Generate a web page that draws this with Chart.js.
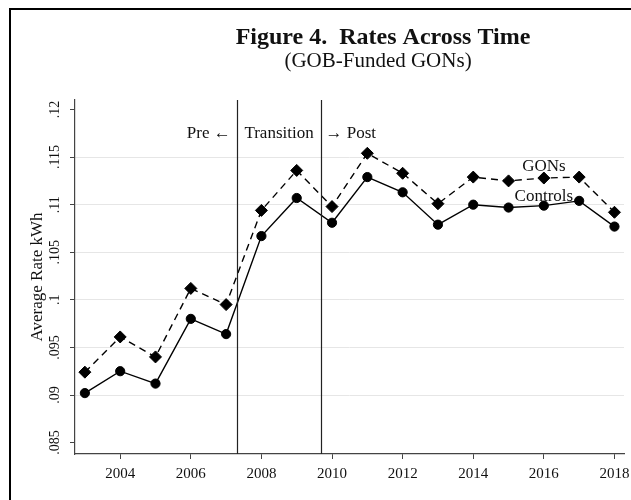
<!DOCTYPE html>
<html>
<head>
<meta charset="utf-8">
<script src="https://cdn.jsdelivr.net/npm/chart.js@4.4.1/dist/chart.umd.min.js"></script>
<style>
  html, body { margin: 0; padding: 0; background: #fff; }
  #wrap { width: 631px; height: 500px; }
</style>
</head>
<body>
<div id="wrap"><canvas id="rates"></canvas></div>
<script>
// data
const years = [2003, 2004, 2005, 2006, 2007, 2008, 2009, 2010, 2011, 2012, 2013, 2014, 2015, 2016, 2017, 2018];
const gons = [0.0924, 0.0961, 0.0940, 0.1012, 0.0995, 0.1094, 0.1136, 0.1098, 0.1154, 0.1133, 0.1101, 0.1129, 0.1125, 0.1128, 0.1129, 0.1092];
const controls = [0.0902, 0.0925, 0.0912, 0.0980, 0.0964, 0.1067, 0.1107, 0.1081, 0.1129, 0.1113, 0.1079, 0.1100, 0.1097, 0.1099, 0.1104, 0.1077];
const xTicks = [2004, 2006, 2008, 2010, 2012, 2014, 2016, 2018];
const yTicks = [0.085, 0.09, 0.095, 0.1, 0.105, 0.11, 0.115, 0.12];
const periodBreaks = [2007.3, 2009.7];

const serif = '"Liberation Serif", "DejaVu Serif", serif';
const ink = '#111';

function fmtRate(v) {
    return String(+v.toFixed(3)).replace(/^0/, '');
}

// frame, titles, rotated y labels, period lines and text annotations
const decorations = {
    id: 'decorations',
    beforeDraw(chart) {
        const ctx = chart.ctx;
        ctx.save();
        ctx.fillStyle = '#fff';
        ctx.fillRect(0, 0, chart.width, chart.height);
        ctx.strokeStyle = '#000';
        ctx.lineWidth = 2;
        ctx.beginPath();
        ctx.moveTo(10, chart.height);
        ctx.lineTo(10, 9);
        ctx.lineTo(chart.width, 9);
        ctx.stroke();
        ctx.restore();
    },
    afterDatasetsDraw(chart) {
        const { ctx, chartArea } = chart;
        const x = chart.scales.x;
        const y = chart.scales.y;
        ctx.save();

        // period lines
        ctx.strokeStyle = '#222';
        ctx.lineWidth = 1.2;
        periodBreaks.forEach(b => {
            const px = Math.round(x.getPixelForValue(b)) + 0.5;
            ctx.beginPath();
            ctx.moveTo(px, chartArea.top);
            ctx.lineTo(px, chartArea.bottom);
            ctx.stroke();
        });

        ctx.fillStyle = ink;
        ctx.textBaseline = 'middle';

        // titles
        ctx.textAlign = 'center';
        ctx.font = 'bold 24px ' + serif;
        ctx.fillText('Figure 4.  Rates Across Time', 383, 38);
        ctx.font = '21px ' + serif;
        ctx.fillText('(GOB-Funded GONs)', 378, 61);

        // period labels
        const b1 = x.getPixelForValue(periodBreaks[0]);
        const b2 = x.getPixelForValue(periodBreaks[1]);
        const ly = y.getPixelForValue(0.1175);
        ctx.font = '17px ' + serif;
        ctx.textAlign = 'right';
        ctx.fillText('Pre \u2190', b1 - 6, ly);
        ctx.textAlign = 'center';
        ctx.fillText('Transition', (b1 + b2) / 2, ly);
        ctx.textAlign = 'left';
        ctx.fillText('\u2192 Post', b2 + 4, ly);

        // series labels
        ctx.textAlign = 'center';
        ctx.fillText('GONs', x.getPixelForValue(2016.0), y.getPixelForValue(0.1140));
        ctx.fillText('Controls', x.getPixelForValue(2016.0), y.getPixelForValue(0.1109));

        // y tick labels, rotated like the original
        ctx.font = '14px ' + serif;
        yTicks.forEach(v => {
            ctx.save();
            ctx.translate(55, y.getPixelForValue(v));
            ctx.rotate(-Math.PI / 2);
            ctx.fillText(fmtRate(v), 0, 0);
            ctx.restore();
        });

        // y title
        ctx.save();
        ctx.font = '17px ' + serif;
        ctx.translate(38, (chartArea.top + chartArea.bottom) / 2);
        ctx.rotate(-Math.PI / 2);
        ctx.fillText('Average Rate kWh', 0, 0);
        ctx.restore();

        ctx.restore();
    }
};

new Chart(document.getElementById('rates'), {
    type: 'line',
    data: {
        datasets: [
            {
                label: 'GONs',
                data: years.map((yr, i) => ({ x: yr, y: gons[i] })),
                borderColor: '#000',
                backgroundColor: '#000',
                borderWidth: 1.4,
                borderDash: [7, 5],
                pointStyle: 'rectRot',
                pointRadius: 6,
                pointBorderWidth: 1,
                tension: 0
            },
            {
                label: 'Controls',
                data: years.map((yr, i) => ({ x: yr, y: controls[i] })),
                borderColor: '#000',
                backgroundColor: '#000',
                borderWidth: 1.4,
                pointStyle: 'circle',
                pointRadius: 4.6,
                pointBorderWidth: 1,
                tension: 0
            }
        ]
    },
    options: {
        responsive: true,
        maintainAspectRatio: false,
        animation: false,
        layout: { padding: { top: 100, right: 7, left: 0, bottom: 0 } },
        plugins: {
            legend: { display: false },
            title: { display: false },
            tooltip: { enabled: false }
        },
        scales: {
            x: {
                type: 'linear',
                min: 2002.72,
                max: 2018.27,
                afterBuildTicks: s => { s.ticks = xTicks.map(v => ({ value: v })); },
                afterFit: s => { s.height = 46; s.paddingLeft = 0; s.paddingRight = 0; },
                border: { display: true, color: '#444', width: 1.2 },
                grid: { drawOnChartArea: false, drawTicks: true, tickLength: 5, tickColor: '#444' },
                ticks: {
                    color: ink,
                    padding: 6,
                    maxRotation: 0,
                    font: { family: serif, size: 15 },
                    callback: v => String(v)
                }
            },
            y: {
                min: 0.0838,
                max: 0.1210,
                afterBuildTicks: s => { s.ticks = yTicks.map(v => ({ value: v })); },
                afterFit: s => { s.width = 75; s.paddingTop = 0; s.paddingBottom = 0; },
                border: { display: true, color: '#444', width: 1.2 },
                grid: {
                    drawTicks: true,
                    tickLength: 5,
                    tickColor: '#444',
                    lineWidth: 1,
                    color: c => (c.tick && c.tick.value > 0.086 && c.tick.value < 0.119) ? '#e6e6e6' : 'rgba(0,0,0,0)'
                },
                ticks: { display: false }
            }
        }
    },
    plugins: [decorations]
});
</script>
</body>
</html>
